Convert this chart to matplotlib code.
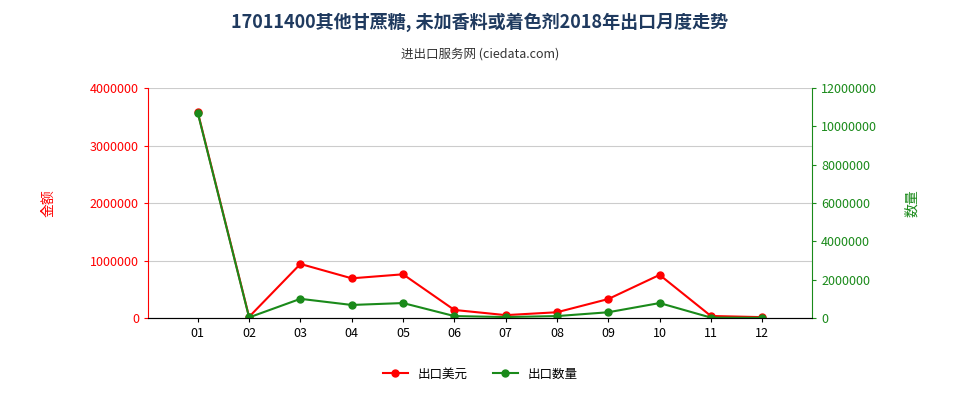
import matplotlib.pyplot as plt
import matplotlib.ticker as mticker
from matplotlib import font_manager

cjk = [f.name for f in font_manager.fontManager.ttflist if "CJK" in f.name]
pref = [n for n in cjk if "SC" in n] or cjk
plt.rcParams["font.family"] = (pref[:1] if pref else []) + ["DejaVu Sans"]

months = ["01", "02", "03", "04", "05", "06", "07", "08", "09", "10", "11", "12"]
value_usd = [3580000, 20000, 940000, 690000, 760000, 140000, 50000, 100000, 330000, 750000, 35000, 15000]
quantity = [10700000, 30000, 1000000, 680000, 780000, 100000, 50000, 100000, 300000, 780000, 20000, 10000]

fig = plt.figure(figsize=(9.6, 4.0), dpi=100)
ax = fig.add_axes([148 / 960, 1 - 318 / 400, 664 / 960, 230 / 400])
ax2 = ax.twinx()
x = list(range(len(months)))

ax.plot(x, value_usd, color="#ff0000", marker="o", markersize=5, linewidth=1.5, label="出口美元")
ax2.plot(x, quantity, color="#1a8a1a", marker="o", markersize=5, linewidth=1.5, label="出口数量")

ax.set_xlim(-0.97, 11.97)
ax.set_ylim(0, 4000000)
ax2.set_ylim(0, 12000000)
ax.set_yticks(range(0, 4000001, 1000000))
ax2.set_yticks(range(0, 12000001, 2000000))
ax.yaxis.set_major_formatter(mticker.FuncFormatter(lambda v, p: f"{int(v)}"))
ax2.yaxis.set_major_formatter(mticker.FuncFormatter(lambda v, p: f"{int(v)}"))
ax.set_xticks(x)
ax.set_xticklabels(months)
ax.grid(axis="y", color="#cccccc", linewidth=0.8)
ax.set_axisbelow(True)

for a in (ax, ax2):
    a.tick_params(labelsize=9, length=3)
    a.spines["top"].set_visible(False)
ax.tick_params(axis="y", colors="#ff0000")
ax2.tick_params(axis="y", colors="#1a8a1a")
ax.spines["left"].set_color("#ff0000")
ax2.spines["left"].set_visible(False)
ax2.spines["right"].set_color("#1a8a1a")
ax.spines["right"].set_visible(False)
ax.spines["bottom"].set_color("#666666")

ax.set_ylabel("金额", color="#ff0000", fontsize=10, labelpad=25)
ax2.set_ylabel("数量", color="#1a8a1a", fontsize=10, labelpad=20)

fig.text(0.5, 0.945, "17011400其他甘蔗糖, 未加香料或着色剂2018年出口月度走势",
         ha="center", va="center", fontsize=13, fontweight="bold", color="#1f3a5f")
fig.text(0.5, 0.865, "进出口服务网 (ciedata.com)", ha="center", va="center", fontsize=9, color="#333333")

h1, l1 = ax.get_legend_handles_labels()
h2, l2 = ax2.get_legend_handles_labels()
fig.legend(h1 + h2, l1 + l2, loc="center", bbox_to_anchor=(0.5, 0.065), ncol=2,
           frameon=False, fontsize=9)

fig.savefig("out.png", dpi=100)
